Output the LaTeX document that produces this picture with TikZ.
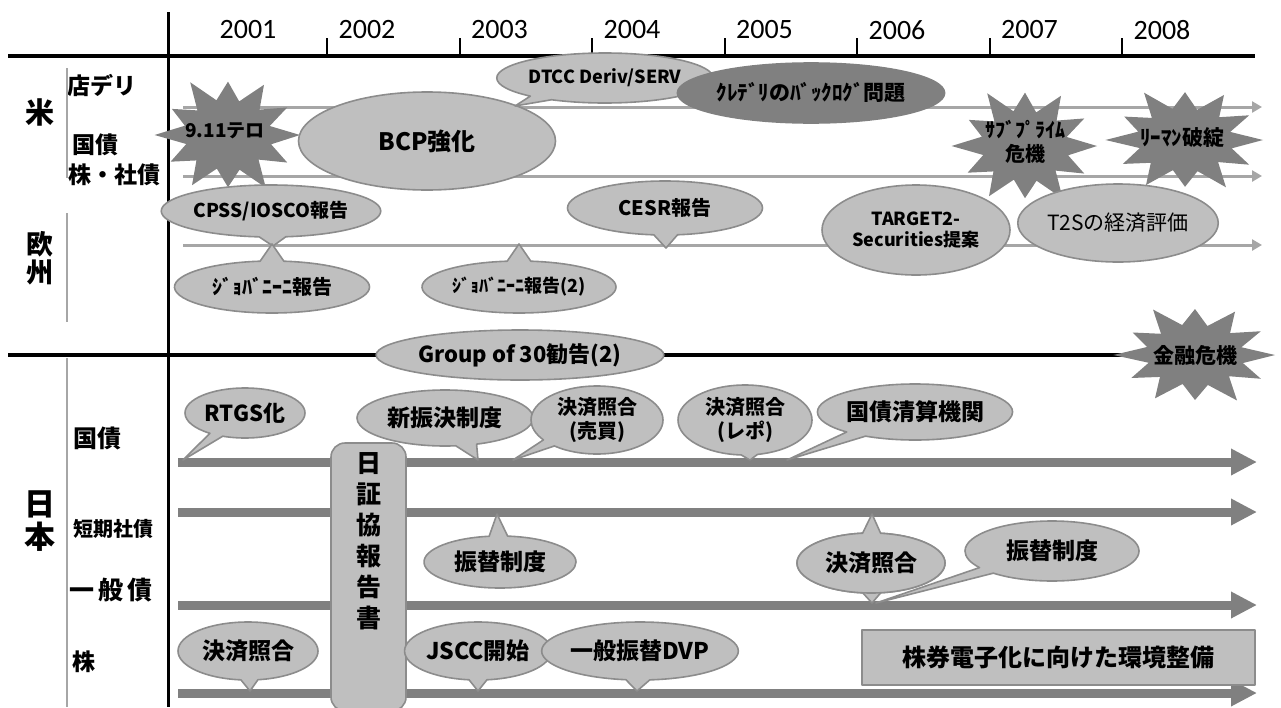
\documentclass[tikz,border=0pt]{standalone}
\usepackage{fontspec}
\setmainfont{Noto Sans CJK JP}
\newfontfamily\yearfont{Carlito}
\usetikzlibrary{arrows.meta, shapes.callouts, shapes.geometric, positioning}
\definecolor{tlGrey}{HTML}{BFBFBF}
\definecolor{tlEdge}{HTML}{8C8C8C}
\definecolor{tlDark}{HTML}{808080}
\definecolor{tlLine}{HTML}{A6A6A6}
\newcommand\fsz[1]{\fontsize{#1}{\dimexpr#1pt*6/5\relax}\selectfont}
% explosion shape: centre, x radius, y radius
\newcommand\burst[3]{%
  \fill[tlDark, shift={(#1)}] (0:#2 and #3)
    \foreach \a/\f in {15/.62,30/.95,45/.6,60/1.05,75/.62,90/.9,105/.6,120/1,
                       135/.62,150/.92,165/.6,180/1.02,195/.62,210/.9,225/.6,
                       240/1.05,255/.62,270/.92,285/.6,300/1,315/.62,330/.95,345/.6}
      {-- (\a:{\f*#2} and {\f*#3})} -- cycle;}
\tikzset{
  every picture/.append style={x=1pt, y=-1pt, line join=round},
  axisln/.style={line width=3.5pt, black},
  yeartick/.style={line width=2pt, black},
  yearlbl/.style={font=\yearfont\fsz{28}},
  rowlbl/.style={font=\bfseries\fsz{#1}, inner sep=0pt, align=center},
  sepline/.style={draw=tlLine, line width=2pt},
  thinarr/.style={draw=tlLine, line width=3pt, -{Triangle[length=10pt, width=11pt]}},
  bararr/.style={draw=tlDark, line width=9pt, -{Triangle[length=26pt, width=25pt]}},
  bubble/.style={ellipse, fill=tlGrey, draw=tlEdge, line width=1.6pt, inner sep=0pt,
                 align=center, font=\bfseries\fsz{#1}},
  bubble/.default=22,
  callbub/.style={ellipse callout, callout pointer arc=14, fill=tlGrey, draw=tlEdge,
                  line width=1.6pt, inner sep=0pt, align=center, font=\bfseries\fsz{#1}},
  callbub/.default=22,
  sz/.style 2 args={minimum width=#1, minimum height=#2},
  burstlbl/.style={font=\bfseries\fsz{#1}, align=center, inner sep=0pt},
}
\begin{document}
\begin{tikzpicture}
  \useasboundingbox (0,0) rectangle (1281,707);
  % year scale and main axes
  \draw[axisln] (8,56) -- (1255,56);
  \draw[axisln] (8,355) -- (1180,355);
  \draw[axisln, line width=3pt] (168,12) -- (168,707);
  \foreach \i in {0,...,6}
    \draw[yeartick] ({327+132.5*\i},38) -- ++(0,18);
  \node[yearlbl] (y2001) at (248,30) {2001};
  \foreach \yr [count=\i from 0] in {2002,2003,2004,2005,2006,2007,2008}
    \node[yearlbl] (y\yr) at ({367+132.5*\i},30) {\yr};
  % row labels
  \node[rowlbl=29] (us) at (40,112) {米};
  \node[rowlbl=23] (us-otc) at (102,85) {店デリ};
  \node[rowlbl=23] (us-gov) at (95,145) {国債};
  \node[rowlbl=23] (us-eq) at (114,175) {株・社債};
  \node[rowlbl=27] (eu) at (40,258) {欧\\[-4pt]州};
  \node[rowlbl=31] (jp) at (40,521) {日\\[-4pt]本};
  \node[rowlbl=24] (jp-gov) at (97,438) {国債};
  \node[rowlbl=20] (jp-cp) at (113,529) {短期社債};
  \node[rowlbl=25] (jp-bond) at (111,590) {一\,般\,債};
  \node[rowlbl=23] (jp-eq) at (84,662) {株};
  \draw[sepline] (67,68) -- (67,178);
  \draw[sepline] (67,213) -- (67,322);
  \draw[sepline] (67,358) -- (67,707);

  % United States
  \draw[thinarr] (183,107) -- (1262,107);
  \draw[thinarr] (183,176) -- (1262,176);
  \burst{228,135}{72}{58}
  \node[burstlbl=19] (wtc) at (225,131) {9.11テロ};
  \node[bubble=24, sz={257}{98}] (bcp) at (427,141) {BCP強化};
  \node[callbub=18, sz={172}{50}, callout absolute pointer={(515,106)}]
    (dtcc) at (605,78) {DTCC Deriv/SERV};
  \node[bubble=21, sz={245}{60}, fill=tlDark, draw=tlDark] (backlog) at (811,93)
    {ｸﾚﾃﾞﾘのﾊﾞｯｸﾛｸﾞ問題};
  \burst{1025,146}{72}{58}
  \node[burstlbl=20] (subprime) at (1025,142) {ｻﾌﾞﾌﾟﾗｲﾑ\\危機};
  \burst{1185,140}{78}{52}
  \node[burstlbl=21] (lehman) at (1182,138) {ﾘｰﾏﾝ破綻};

  % Europe
  \draw[thinarr] (183,245) -- (1262,245);
  \node[callbub=19, sz={194}{52}, callout absolute pointer={(273,246)}]
    (cpss) at (271,211) {CPSS/IOSCO報告};
  \node[callbub=20, sz={195}{52}, callout absolute pointer={(272,244)}]
    (giov) at (272,287) {ｼﾞｮﾊﾞﾆｰﾆ報告};
  \node[callbub=18, sz={194}{52}, callout absolute pointer={(519,244)}]
    (giov2) at (519,287) {ｼﾞｮﾊﾞﾆｰﾆ報告(2)};
  \node[callbub=20, sz={195}{54}, callout absolute pointer={(666,248)}]
    (cesr) at (665,208) {CESR報告};
  \node[bubble=18, sz={188}{90}] (t2s) at (916,230) {TARGET2-\\Securities提案};
  \node[bubble=21, sz={196}{78}, font=\fsz{21}] (t2seval) at (1118,223) {T2Sの経済評価};

  % crisis line
  \node[bubble=22, sz={254}{50}] (g30) at (520,355) {Group of 30勧告(2)};
  \burst{1195,355}{80}{50}
  \node[burstlbl=21] (crisis) at (1195,355) {金融危機};

  % Japan
  \foreach \y in {462,512,605,693}
    \draw[bararr] (178,\y) -- (1257,\y);
  \node[draw=tlEdge, fill=tlGrey, line width=1.6pt, rounded corners=14pt,
        sz={75}{268}] (jsda) at (368.5,577) {};
  \node[rowlbl=25, font=\bfseries\fontsize{25}{31}\selectfont, below=10pt of jsda.north]
    (jsda-txt) {日\\証\\協\\報\\告\\書};
  \node[callbub=22, sz={120}{50}, callout absolute pointer={(183,460)}]
    (rtgs) at (245,413) {RTGS化};
  \node[callbub=23, sz={176}{56}, callout absolute pointer={(478,460)}]
    (bes) at (445,418) {新振決制度};
  \node[callbub=20, sz={132}{68}, callout absolute pointer={(513,460)}]
    (match-tr) at (597,420) {決済照合\\(売買)};
  \node[callbub=20, sz={134}{70}, callout absolute pointer={(750,460)}]
    (match-repo) at (745,420) {決済照合\\(レポ)};
  \node[callbub=23, sz={176}{56}, callout absolute pointer={(787,460)}]
    (jgbcc) at (915,412) {国債清算機関};
  \node[callbub=23, sz={152}{52}, callout absolute pointer={(497,514)}]
    (book-cp) at (500,562) {振替制度};
  \node[callbub=23, sz={148}{60}, callout absolute pointer={(872,603)}]
    (match-b2) at (871,563) {};
  \node[callbub=23, sz={148}{60}, callout absolute pointer={(872,514)}]
    (match-b) at (871,563) {決済照合};
  \node[callbub=23, sz={174}{60}, callout absolute pointer={(876,603)}]
    (book-b) at (1052,551) {振替制度};
  \node[callbub=23, sz={140}{58}, callout absolute pointer={(250,691)}]
    (match-eq) at (248,651) {決済照合};
  \node[callbub=23, sz={136}{58}, callout absolute pointer={(478,691)}]
    (jscc) at (478,651) {JSCC開始};
  \node[callbub=23, sz={182}{58}, callout absolute pointer={(637,691)}]
    (dvp) at (640,651) {一般振替DVP};
  \node[draw=tlEdge, fill=tlGrey, line width=1.4pt, font=\bfseries\fsz{24},
        sz={393}{55}] (dematl) at (1058.5,657.5) {株券電子化に向けた環境整備};
\end{tikzpicture}
\end{document}
